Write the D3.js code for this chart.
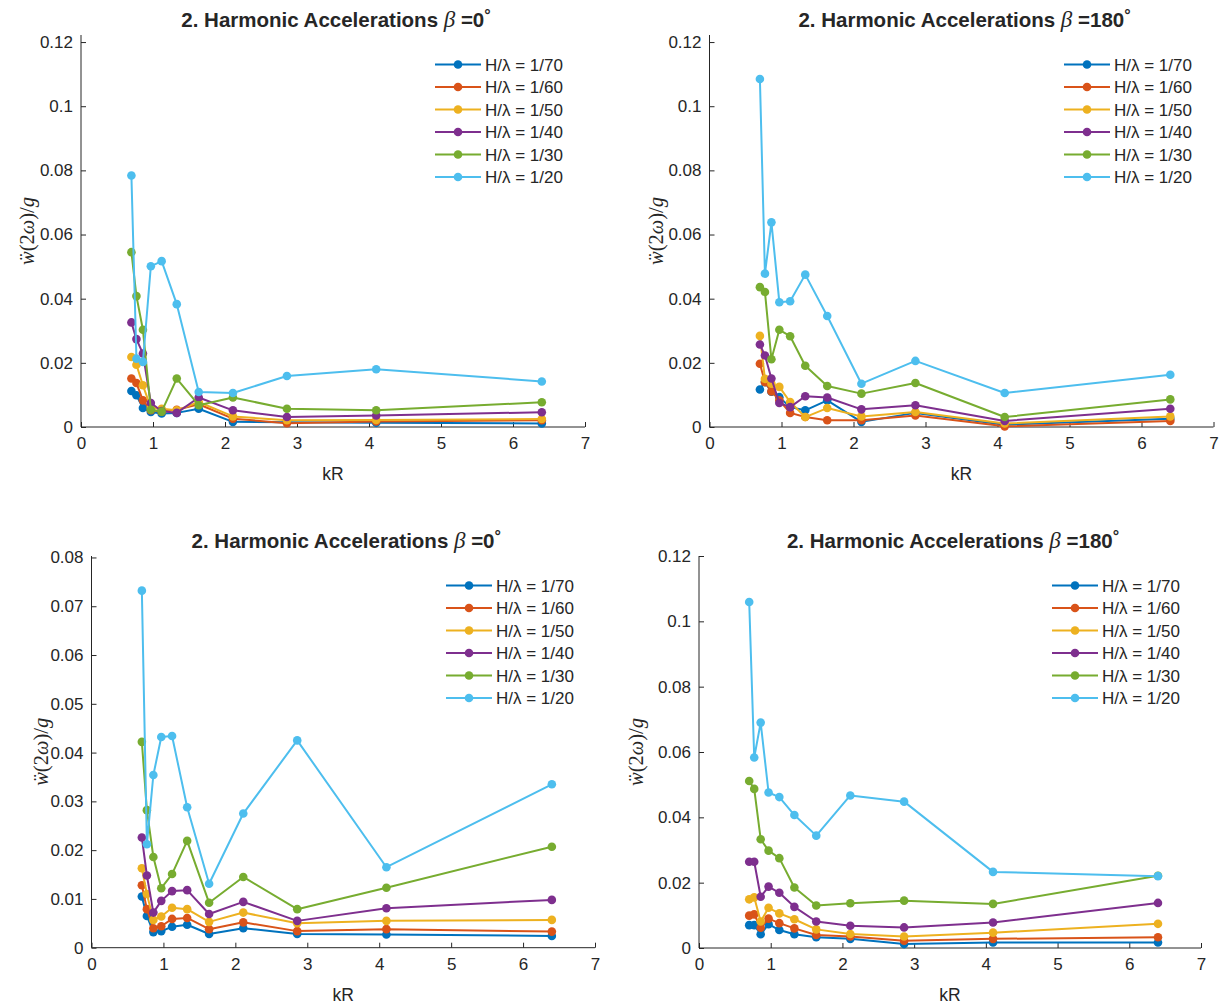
<!DOCTYPE html>
<html>
<head>
<meta charset="utf-8">
<script src="https://cdn.jsdelivr.net/npm/d3@7"></script>
<style>
body { margin: 0; background: #fff; }
svg text { font-family: "Liberation Sans", Arial, sans-serif; fill: #262626; }
</style>
</head>
<body>
<svg id="fig" width="1222" height="1005"></svg>
<script>
// kR values (shared by all panels)
var kR = [0.70, 0.77, 0.86, 0.97, 1.12, 1.33, 1.635, 2.11, 2.86, 4.10, 6.40];
var seriesNames = ["H/\u03bb = 1/70", "H/\u03bb = 1/60", "H/\u03bb = 1/50", "H/\u03bb = 1/40", "H/\u03bb = 1/30", "H/\u03bb = 1/20"];
var colors = ["#0072BD", "#D95319", "#EDB120", "#7E2F8E", "#77AC30", "#4DBEEE"];
var xTicks = [0, 1, 2, 3, 4, 5, 6, 7];

// panel 1: beta = 0 (top)
var p1_70 = [0.0112, 0.0099, 0.0059, 0.0047, 0.0042, 0.0044, 0.0057, 0.0016, 0.0015, 0.0013, 0.0011];
var p1_60 = [0.0151, 0.0137, 0.0083, 0.0052, 0.0048, 0.0054, 0.0071, 0.0026, 0.0012, 0.0017, 0.0021];
var p1_50 = [0.0218, 0.0194, 0.0130, 0.0060, 0.0057, 0.0052, 0.0078, 0.0033, 0.0021, 0.0022, 0.0025];
var p1_40 = [0.0326, 0.0274, 0.0229, 0.0075, 0.0050, 0.0044, 0.0092, 0.0052, 0.0031, 0.0036, 0.0046];
var p1_30 = [0.0545, 0.0408, 0.0303, 0.0054, 0.0048, 0.0151, 0.0068, 0.0092, 0.0057, 0.0052, 0.0077];
var p1_20 = [0.0784, 0.0213, 0.0203, 0.0501, 0.0517, 0.0383, 0.0109, 0.0106, 0.0159, 0.0180, 0.0142];

// panel 2: beta = 180 (top)
var p2_70 = [0.0117, 0.0140, 0.0110, 0.0093, 0.0062, 0.0052, 0.0083, 0.0016, 0.0044, 0.0007, 0.0026];
var p2_60 = [0.0197, 0.0140, 0.0111, 0.0083, 0.0044, 0.0031, 0.0021, 0.0021, 0.0036, 0.0002, 0.0019];
var p2_50 = [0.0284, 0.0150, 0.0135, 0.0125, 0.0078, 0.0031, 0.0059, 0.0033, 0.0047, 0.0011, 0.0033];
var p2_40 = [0.0257, 0.0223, 0.0151, 0.0075, 0.0062, 0.0096, 0.0092, 0.0055, 0.0068, 0.0019, 0.0057];
var p2_30 = [0.0436, 0.0421, 0.0211, 0.0303, 0.0283, 0.0191, 0.0128, 0.0104, 0.0137, 0.0031, 0.0086];
var p2_20 = [0.1085, 0.0478, 0.0638, 0.0389, 0.0392, 0.0475, 0.0346, 0.0135, 0.0206, 0.0106, 0.0163];

// panel 3: beta = 0 (bottom)
var p3_70 = [0.0105, 0.0065, 0.0032, 0.0034, 0.0043, 0.0047, 0.0028, 0.0040, 0.0028, 0.0027, 0.0024];
var p3_60 = [0.0128, 0.0079, 0.0040, 0.0044, 0.0059, 0.0061, 0.0038, 0.0052, 0.0034, 0.0038, 0.0033];
var p3_50 = [0.0163, 0.0110, 0.0057, 0.0064, 0.0082, 0.0079, 0.0053, 0.0072, 0.0050, 0.0055, 0.0057];
var p3_40 = [0.0226, 0.0148, 0.0072, 0.0096, 0.0116, 0.0118, 0.0069, 0.0094, 0.0055, 0.0081, 0.0098];
var p3_30 = [0.0422, 0.0282, 0.0186, 0.0122, 0.0151, 0.0219, 0.0092, 0.0145, 0.0079, 0.0123, 0.0207];
var p3_20 = [0.0732, 0.0212, 0.0354, 0.0432, 0.0434, 0.0288, 0.0131, 0.0275, 0.0425, 0.0165, 0.0335];

// panel 4: beta = 180 (bottom)
var p4_70 = [0.0070, 0.0070, 0.0042, 0.0073, 0.0055, 0.0042, 0.0033, 0.0028, 0.0012, 0.0017, 0.0017];
var p4_60 = [0.0099, 0.0103, 0.0062, 0.0090, 0.0076, 0.0060, 0.0040, 0.0035, 0.0022, 0.0028, 0.0033];
var p4_50 = [0.0149, 0.0155, 0.0081, 0.0123, 0.0106, 0.0088, 0.0057, 0.0043, 0.0035, 0.0047, 0.0074];
var p4_40 = [0.0264, 0.0264, 0.0157, 0.0188, 0.0169, 0.0126, 0.0081, 0.0068, 0.0063, 0.0078, 0.0138];
var p4_30 = [0.0511, 0.0487, 0.0333, 0.0298, 0.0275, 0.0185, 0.0130, 0.0137, 0.0145, 0.0135, 0.0221];
var p4_20 = [0.1059, 0.0583, 0.0690, 0.0476, 0.0462, 0.0407, 0.0344, 0.0467, 0.0448, 0.0233, 0.0220];

var yTicks12 = [0, 0.02, 0.04, 0.06, 0.08, 0.1, 0.12];
var yTicks08 = [0, 0.01, 0.02, 0.03, 0.04, 0.05, 0.06, 0.07, 0.08];

var panels = [
	{ beta: "0", series: [p1_70, p1_60, p1_50, p1_40, p1_30, p1_20], yTicks: yTicks12, yMax: 0.1222,
	  box: [81, 585, 35, 427], legX: 435, ylabX: 34 },
	{ beta: "180", series: [p2_70, p2_60, p2_50, p2_40, p2_30, p2_20], yTicks: yTicks12, yMax: 0.1222,
	  box: [709.5, 1213.5, 35, 427], legX: 1064, ylabX: 663 },
	{ beta: "0", series: [p3_70, p3_60, p3_50, p3_40, p3_30, p3_20], yTicks: yTicks08, yMax: 0.0803,
	  box: [91.5, 595, 556, 947.7], legX: 446, ylabX: 48 },
	{ beta: "180", series: [p4_70, p4_60, p4_50, p4_40, p4_30, p4_20], yTicks: yTicks12, yMax: 0.12,
	  box: [699, 1201, 556, 948], legX: 1052, ylabX: 643 }
];

var svg = d3.select("#fig");

panels.forEach(function(p) {
	var L = p.box[0], R = p.box[1], T = p.box[2], B = p.box[3];
	var x = d3.scaleLinear().domain([0, 7]).range([L, R]);
	var y = d3.scaleLinear().domain([0, p.yMax]).range([B, T]);
	var g = svg.append("g");

	// axes (MATLAB style, ticks inward, box off)
	var xAxis = d3.axisBottom(x).tickValues(xTicks).tickSizeInner(-5).tickSizeOuter(0)
		.tickFormat(d3.format("d"));
	var yAxis = d3.axisLeft(y).tickValues(p.yTicks).tickSizeInner(-5).tickSizeOuter(0)
		.tickFormat(function(d) { return d === 0 ? "0" : d3.format("")(+d.toFixed(2)); });

	var gx = g.append("g").attr("transform", "translate(0," + B + ")").call(xAxis);
	var gy = g.append("g").attr("transform", "translate(" + L + ",0)").call(yAxis);
	[gx, gy].forEach(function(a) {
		a.attr("font-size", null).attr("font-family", null);
		a.select(".domain").attr("stroke", "#262626").attr("stroke-width", 1);
		a.selectAll(".tick line").attr("stroke", "#262626");
		a.selectAll(".tick text").style("font-size", "17px").attr("fill", "#262626");
	});
	gy.select(".domain").attr("d", "M0," + B + "V" + T);
	gx.select(".domain").attr("d", "M" + L + ",0H" + R);
	gx.selectAll(".tick text").attr("dy", "0.71em").attr("y", 10);
	gy.selectAll(".tick text").attr("x", -8);

	// series
	var line = d3.line().x(function(d, i) { return x(kR[i]); }).y(function(d) { return y(d); });
	p.series.forEach(function(s, k) {
		g.append("path").datum(s).attr("d", line)
			.attr("fill", "none").attr("stroke", colors[k]).attr("stroke-width", 2)
			.attr("stroke-linejoin", "round");
		g.selectAll(".pt" + k).data(s).enter().append("circle")
			.attr("cx", function(d, i) { return x(kR[i]); })
			.attr("cy", function(d) { return y(d); })
			.attr("r", 4.3).attr("fill", colors[k]);
	});

	// title
	var title = g.append("text").attr("x", (L + R) / 2 + 3).attr("y", T - 8)
		.attr("text-anchor", "middle").style("font-size", "20.5px").style("font-weight", "bold");
	title.append("tspan").text("2. Harmonic Accelerations ");
	title.append("tspan").text("\u03b2").style("font-family", "'Liberation Serif', 'Times New Roman', serif")
		.style("font-style", "italic").style("font-weight", "normal").style("font-size", "23px");
	title.append("tspan").text(" =" + p.beta);
	title.append("tspan").text("\u00b0").attr("dy", -6).style("font-size", "16px");

	// x label
	g.append("text").attr("x", (L + R) / 2).attr("y", B + 53)
		.attr("text-anchor", "middle").style("font-size", "17.5px").text("kR");

	// y label
	var ylab = g.append("text")
		.attr("transform", "translate(" + p.ylabX + "," + ((T + B) / 2) + ") rotate(-90)")
		.attr("text-anchor", "middle")
		.style("font-family", "'Liberation Serif', 'Times New Roman', serif").style("font-size", "20.5px");
	ylab.append("tspan").text("\u1e85").style("font-style", "italic");
	ylab.append("tspan").text("(2");
	ylab.append("tspan").text("\u03c9").style("font-style", "italic");
	ylab.append("tspan").text(")/");
	ylab.append("tspan").text("g").style("font-style", "italic");

	// legend
	var legY0 = T + 29.5, legDy = 22.5;
	seriesNames.forEach(function(n, k) {
		var yy = legY0 + k * legDy;
		g.append("line").attr("x1", p.legX).attr("x2", p.legX + 46).attr("y1", yy).attr("y2", yy)
			.attr("stroke", colors[k]).attr("stroke-width", 2);
		g.append("circle").attr("cx", p.legX + 23).attr("cy", yy).attr("r", 4.3).attr("fill", colors[k]);
		g.append("text").attr("x", p.legX + 50).attr("y", yy + 6).style("font-size", "17px").text(n);
	});
});
</script>
</body>
</html>
